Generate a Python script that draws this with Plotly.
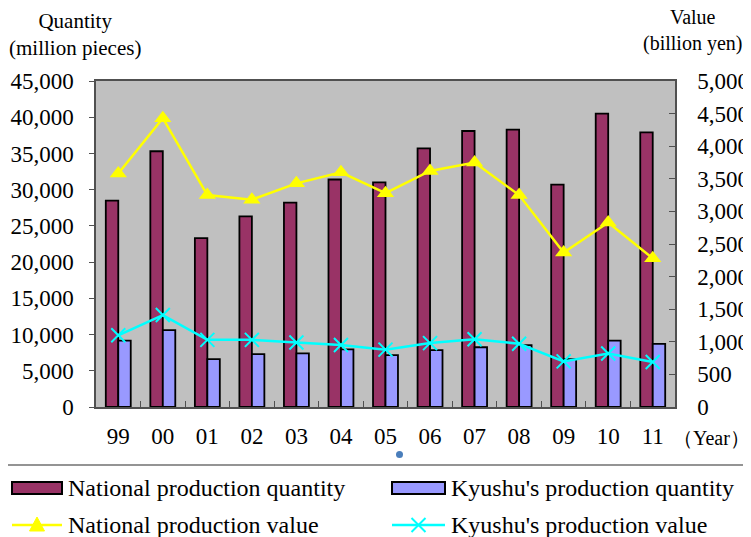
import plotly.graph_objects as go

years = ["99", "00", "01", "02", "03", "04", "05", "06", "07", "08", "09", "10", "11"]
national_qty = [28500, 35300, 23300, 26300, 28200, 31400, 31000, 35700, 38100, 38300, 30700, 40500, 37900]
kyushu_qty = [9150, 10600, 6600, 7300, 7400, 7950, 7150, 7850, 8250, 8550, 6600, 9150, 8700]
national_value = [3580, 4430, 3250, 3180, 3430, 3600, 3280, 3620, 3750, 3250, 2370, 2830, 2280]
kyushu_value = [1100, 1410, 1030, 1030, 990, 950, 880, 980, 1040, 970, 700, 820, 690]

FONT = "Liberation Serif"
FRAME = "#505050"
C_NAT_QTY = "#993366"
C_KYU_QTY = "#9999ff"
C_NAT_VAL = "#ffff00"
C_KYU_VAL = "#00ffff"

# the page body adds an 8px offset, so the figure is 8px smaller than the window
W, H = 743, 529
PLOT_L, PLOT_T, PLOT_W, PLOT_H = 96, 81, 579, 326  # plot area in window pixels


def px(x: float) -> float:
    return (x - PLOT_L) / PLOT_W


def py(y: float) -> float:
    return (PLOT_T + PLOT_H - y) / PLOT_H


fig = go.Figure()

fig.add_trace(go.Bar(
    x=years, y=national_qty, name="National production quantity",
    marker={"color": C_NAT_QTY, "line": {"color": "#000000", "width": 1.8}},
))
fig.add_trace(go.Bar(
    x=years, y=kyushu_qty, name="Kyushu's production quantity",
    marker={"color": C_KYU_QTY, "line": {"color": "#000000", "width": 1.8}},
))
fig.add_trace(go.Scatter(
    x=years, y=national_value, name="National production value", yaxis="y2",
    mode="lines+markers",
    line={"color": C_NAT_VAL, "width": 2.5},
    marker={"symbol": "triangle-up", "size": 15, "color": C_NAT_VAL},
))
fig.add_trace(go.Scatter(
    x=years, y=kyushu_value, name="Kyushu's production value", yaxis="y2",
    mode="lines+markers",
    line={"color": C_KYU_VAL, "width": 2.5},
    marker={"symbol": "x-thin", "size": 14, "color": C_KYU_VAL,
            "line": {"color": C_KYU_VAL, "width": 2}},
))

fig.update_layout(
    width=W, height=H,
    margin={"l": 88, "r": 76, "t": 73, "b": 130},
    paper_bgcolor="#ffffff",
    plot_bgcolor="#c0c0c0",
    font={"family": FONT, "size": 23, "color": "#000000"},
    barmode="group",
    bargap=0.44,
    bargroupgap=0,
    showlegend=False,
    xaxis={
        "type": "category", "automargin": False,
        "range": [-0.5, len(years) - 0.5],
        "showline": True, "linecolor": FRAME, "linewidth": 1.5, "mirror": True,
        "ticks": "inside", "tickson": "boundaries", "ticklen": 6, "tickcolor": FRAME,
        "ticklabelstandoff": 8,
        "showgrid": False,
    },
    yaxis={
        "range": [0, 45000], "dtick": 5000, "tickformat": ",d", "automargin": False,
        "showline": True, "linecolor": FRAME, "linewidth": 1.5,
        "ticks": "outside", "ticklen": 5, "tickcolor": FRAME,
        "ticklabelstandoff": 11,
        "showgrid": False, "zeroline": False,
    },
    yaxis2={
        "range": [0, 5000], "dtick": 500, "tickformat": ",d", "automargin": False,
        "overlaying": "y", "side": "right",
        "showline": True, "linecolor": FRAME, "linewidth": 1.5,
        "ticks": "inside", "ticklen": 6, "tickcolor": FRAME,
        "ticklabelstandoff": 16,
        "showgrid": False, "zeroline": False,
    },
)

# axis titles
fig.add_annotation(
    text="Quantity<br>(million pieces)", xref="paper", yref="paper",
    x=-0.036, y=1.057, xanchor="center", yanchor="bottom",
    showarrow=False, font={"family": FONT, "size": 21},
)
fig.add_annotation(
    text="Value<br>(billion yen)", xref="paper", yref="paper",
    x=px(744), y=1.075, xanchor="right", yanchor="bottom", align="center",
    showarrow=False, font={"family": FONT, "size": 20},
)
fig.add_annotation(
    text="（Year）", xref="paper", yref="paper",
    x=px(752), y=py(438), xanchor="right", yanchor="middle",
    showarrow=False, font={"family": FONT, "size": 20},
)

# separator above legend and small dot
fig.add_shape(
    type="line", xref="paper", yref="paper",
    x0=px(-5), x1=px(760), y0=py(465), y1=py(465),
    line={"color": "#707070", "width": 1.5},
)
fig.add_shape(
    type="circle", xref="paper", yref="paper",
    x0=px(396), x1=px(403), y0=py(451), y1=py(458),
    fillcolor="#4a7ebb", line={"width": 0},
)

# --- hand-drawn legend (two columns, two rows) ---
LEG_FONT = {"family": FONT, "size": 24, "color": "#000000"}
legend_items = [
    ("National production quantity", "bar", C_NAT_QTY, 12, 62, 488),
    ("Kyushu's production quantity", "bar", C_KYU_QTY, 392, 445, 488),
    ("National production value", "tri", C_NAT_VAL, 12, 62, 525),
    ("Kyushu's production value", "x", C_KYU_VAL, 392, 445, 525),
]
for label, kind, color, x0, x1, yc in legend_items:
    if kind == "bar":
        fig.add_shape(
            type="rect", xref="paper", yref="paper",
            x0=px(x0), x1=px(x1), y0=py(yc - 6), y1=py(yc + 6),
            fillcolor=color, line={"color": "#000000", "width": 2},
        )
    else:
        fig.add_shape(
            type="line", xref="paper", yref="paper",
            x0=px(x0), x1=px(x1), y0=py(yc), y1=py(yc),
            line={"color": color, "width": 2.5},
        )
        xm = (x0 + x1) / 2
        if kind == "tri":
            path = (f"M {px(xm)} {py(yc - 8)} L {px(xm - 7.5)} {py(yc + 6)} "
                    f"L {px(xm + 7.5)} {py(yc + 6)} Z")
            fig.add_shape(type="path", xref="paper", yref="paper", path=path,
                          fillcolor=color, line={"color": color, "width": 1})
        else:
            for dy in (-7, 7):
                fig.add_shape(
                    type="line", xref="paper", yref="paper",
                    x0=px(xm - 7), x1=px(xm + 7), y0=py(yc - dy), y1=py(yc + dy),
                    line={"color": color, "width": 2},
                )
    fig.add_annotation(
        text=label, xref="paper", yref="paper",
        x=px(x1 + 4), y=py(yc), xanchor="left", yanchor="middle",
        showarrow=False, font=LEG_FONT,
    )

fig.write_html("out.html")
